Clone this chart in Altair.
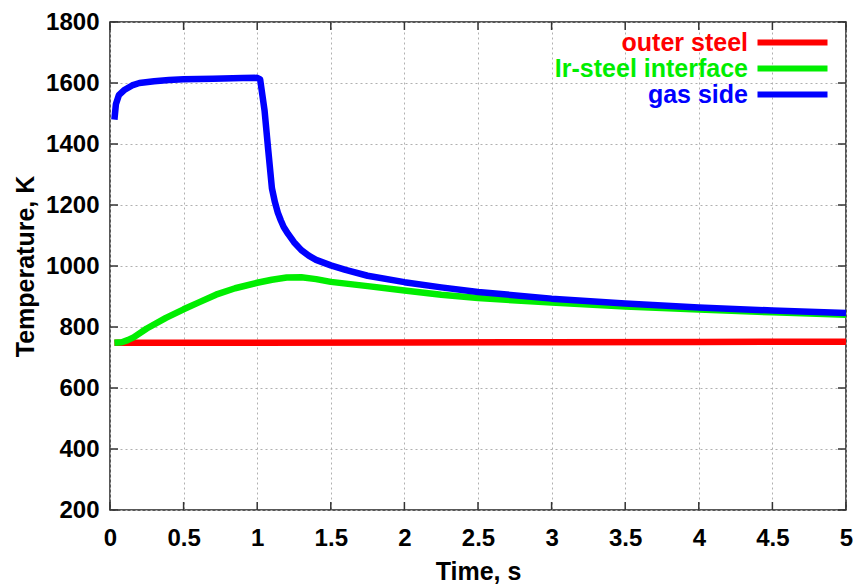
import altair as alt
import pandas as pd

# ---- data ----
series_names = ["outer steel", "Ir-steel interface", "gas side"]
series_colors = ["#ff0000", "#00ee00", "#0000ff"]

t_outer = [0.03, 1.0, 2.0, 3.0, 4.0, 5.0]
T_outer = [748, 748, 749, 750, 751, 752]

t_inter = [0.03, 0.08, 0.12, 0.16, 0.25, 0.38, 0.5, 0.6, 0.72, 0.85, 1.0, 1.1, 1.2,
           1.3, 1.4, 1.5, 1.75, 2.0, 2.25, 2.5, 3.0, 3.5, 4.0, 4.5, 5.0]
T_inter = [748, 750, 757, 766, 795, 830, 858, 880, 906, 927, 945, 955, 962,
           963, 957, 948, 934, 920, 906, 895, 880, 867, 857, 848, 840]

t_gas = [0.03, 0.04, 0.06, 0.1, 0.15, 0.2, 0.3, 0.4, 0.5, 0.7, 0.9, 1.0, 1.02, 1.05,
         1.075, 1.1, 1.12, 1.14, 1.16, 1.18, 1.21, 1.25, 1.3, 1.35, 1.4, 1.5, 1.6, 1.75,
         2.0, 2.25, 2.5, 3.0, 3.5, 4.0, 4.5, 5.0]
T_gas = [1480, 1530, 1560, 1578, 1592, 1600, 1606, 1610, 1612, 1614, 1616, 1617, 1612, 1510,
         1380, 1255, 1210, 1175, 1150, 1128, 1105, 1078, 1052, 1034, 1020, 1002, 987, 968,
         947, 930, 915, 893, 877, 864, 854, 846]

x_ticks = [0, 0.5, 1, 1.5, 2, 2.5, 3, 3.5, 4, 4.5, 5]
y_ticks = [200, 400, 600, 800, 1000, 1200, 1400, 1600, 1800]

rows = []
for name, ts, vs in zip(series_names, [t_outer, t_inter, t_gas], [T_outer, T_inter, T_gas]):
    for t, v in zip(ts, vs):
        rows.append({"series": name, "time": t, "temp": v})
df = pd.DataFrame(rows)
df_xt = pd.DataFrame({"xt": x_ticks})
df_yt = pd.DataFrame({"yt": y_ticks})

FONT = "Liberation Sans"
W, H = 736, 488
TICK = 8

xscale = alt.Scale(domain=[0, 5], nice=False, zero=False)
yscale = alt.Scale(domain=[200, 1800], nice=False, zero=False)
color_scale = alt.Scale(domain=series_names, range=series_colors)

label_color_expr = " : ".join(
    [f"datum.label == '{n}' ? '{c}'" for n, c in zip(series_names[:-1], series_colors[:-1])]
) + f" : '{series_colors[-1]}'"

legend = alt.Legend(
    title=None, orient="none", legendX=670, legendY=8,
    symbolType="M-10,0H10", symbolSize=49, symbolStrokeWidth=6,
    labelFont=FONT, labelFontSize=25, labelFontWeight="bold",
    labelAlign="right", labelOffset={"expr": "-57"}, labelLimit=400,
    labelColor={"expr": label_color_expr}, rowPadding=0, padding=0,
)

main_x_axis = alt.Axis(
    values=x_ticks, format="~g", title="Time, s", labelFont=FONT, labelFontSize=24,
    labelFontWeight="bold", labelColor="black", titleFont=FONT, titleFontSize=25,
    titleFontWeight="bold", titleColor="black", titlePadding=9, labelPadding=16,
    ticks=False, tickSize=0, domain=False, grid=True, gridDash=[2, 3],
    gridColor="#b0b0b0", gridWidth=1, labelFlush=False, orient="bottom",
)
main_y_axis = alt.Axis(
    values=y_ticks, format="d", title="Temperature, K", labelFont=FONT, labelFontSize=24,
    labelFontWeight="bold", labelColor="black", titleFont=FONT, titleFontSize=25,
    titleFontWeight="bold", titleColor="black", titlePadding=7, labelPadding=11,
    ticks=False, tickSize=0, domain=False, grid=True, gridDash=[2, 3],
    gridColor="#b0b0b0", gridWidth=1, labelFlush=False, orient="left",
)

base = alt.Chart(df)
layers = []
for name in series_names:
    layers.append(
        base.transform_filter(alt.datum.series == name)
        .mark_line(strokeWidth=6.5, strokeCap="butt", strokeJoin="round")
        .encode(x=alt.X("time:Q", scale=xscale, axis=main_x_axis),
                y=alt.Y("temp:Q", scale=yscale, axis=main_y_axis),
                color=alt.Color("series:N", scale=color_scale, legend=legend),
                order="time:Q")
    )

tick_style = dict(color="#333333", strokeWidth=1.5)
xt = alt.X("xt:Q", scale=xscale, axis=main_x_axis)
yt = alt.Y("yt:Q", scale=yscale, axis=main_y_axis)
ticks_bottom = alt.Chart(df_xt).mark_rule(**tick_style).encode(
    x=xt, y=alt.value(H), y2=alt.value(H - TICK))
ticks_top = alt.Chart(df_xt).mark_rule(**tick_style).encode(
    x=xt, y=alt.value(0), y2=alt.value(TICK))
ticks_left = alt.Chart(df_yt).mark_rule(**tick_style).encode(
    y=yt, x=alt.value(0), x2=alt.value(TICK))
ticks_right = alt.Chart(df_yt).mark_rule(**tick_style).encode(
    y=yt, x=alt.value(W), x2=alt.value(W - TICK))

chart = (
    alt.layer(*layers, ticks_bottom, ticks_top, ticks_left, ticks_right)
    .properties(
        width=W, height=H,
        autosize=alt.AutoSizeParams(type="none"),
        padding={"left": 102, "top": 14, "right": 8, "bottom": 78},
        background="white",
    )
    .configure_view(stroke="#222222", strokeWidth=1.5)
)

chart.save("out.html", embed_options={"renderer": "svg", "actions": False})
